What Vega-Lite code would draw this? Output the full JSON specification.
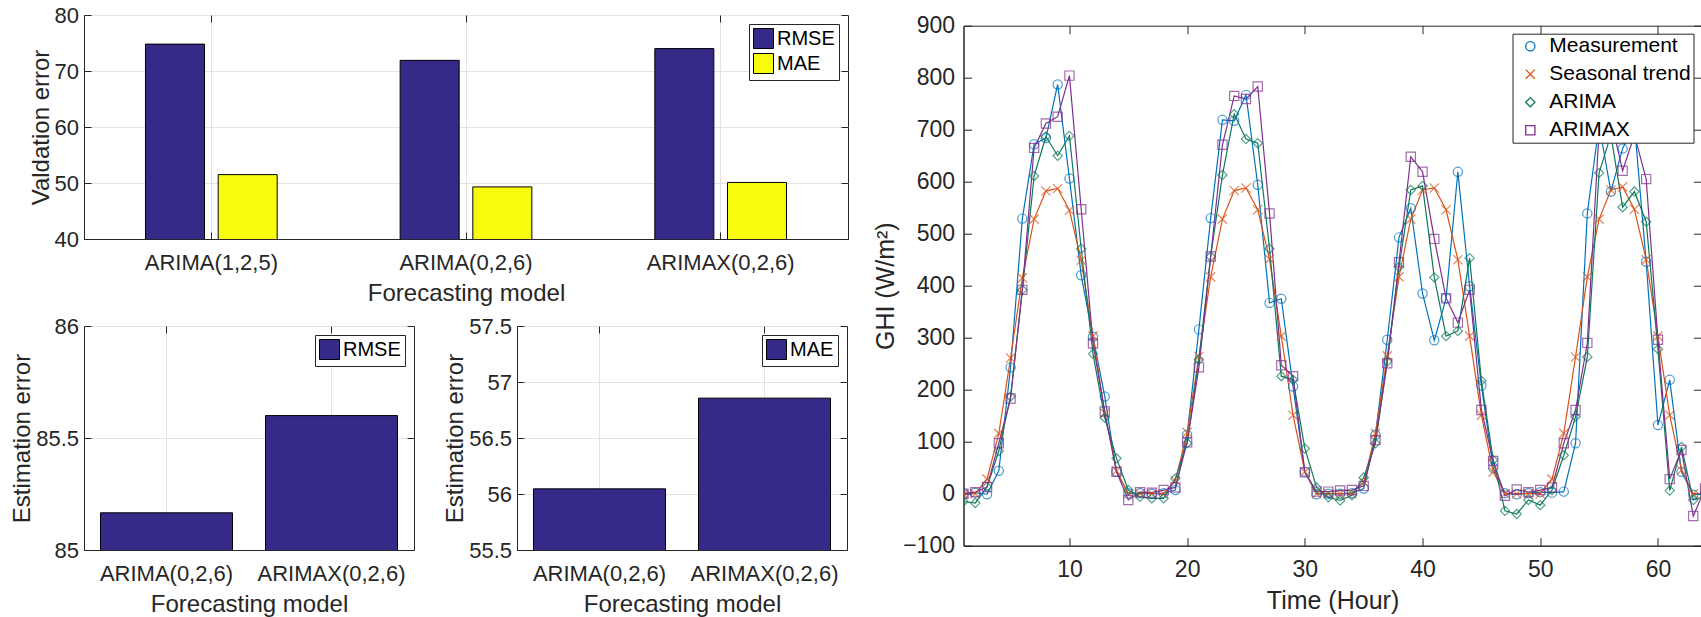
{
  "$schema": "https://vega.github.io/schema/vega-lite/v6.json",
  "padding": {"left": 10, "top": 3, "right": 0, "bottom": 0},
  "background": "white",
  "config": {
    "font": "Liberation Sans",
    "view": {"stroke": "#262626", "strokeWidth": 1},
    "axis": {"domainColor": "#262626", "tickColor": "#262626", "labelColor": "#262626", "titleColor": "#262626", "titleFontWeight": "normal", "gridColor": "#e3e3e3", "gridWidth": 1, "labelFont": "Liberation Sans", "titleFont": "Liberation Sans"},
    "legend": {"labelFont": "Liberation Sans", "labelColor": "#000000", "strokeColor": "#262626", "fillColor": "#ffffff"}
  },
  "datasets": {
    "validation": [
      {"model": "ARIMA(1,2,5)", "metric": "RMSE", "value": 74.8},
      {"model": "ARIMA(1,2,5)", "metric": "MAE", "value": 51.5},
      {"model": "ARIMA(0,2,6)", "metric": "RMSE", "value": 71.9},
      {"model": "ARIMA(0,2,6)", "metric": "MAE", "value": 49.3},
      {"model": "ARIMAX(0,2,6)", "metric": "RMSE", "value": 74.0},
      {"model": "ARIMAX(0,2,6)", "metric": "MAE", "value": 50.1}
    ],
    "estRMSE": [
      {"model": "ARIMA(0,2,6)", "metric": "RMSE", "value": 85.166},
      {"model": "ARIMAX(0,2,6)", "metric": "RMSE", "value": 85.6}
    ],
    "estMAE": [
      {"model": "ARIMA(0,2,6)", "metric": "MAE", "value": 56.046},
      {"model": "ARIMAX(0,2,6)", "metric": "MAE", "value": 56.856}
    ],
    "ghi": [
      {"t": 1, "Measurement": 0, "Seasonal trend": 0, "ARIMA": -15, "ARIMAX": 0},
      {"t": 2, "Measurement": 2, "Seasonal trend": 0, "ARIMA": -18, "ARIMAX": 3},
      {"t": 3, "Measurement": -1, "Seasonal trend": 28, "ARIMA": 13, "ARIMAX": 13},
      {"t": 4, "Measurement": 44, "Seasonal trend": 116, "ARIMA": 82, "ARIMAX": 97},
      {"t": 5, "Measurement": 243, "Seasonal trend": 261, "ARIMA": 187, "ARIMAX": 183},
      {"t": 6, "Measurement": 529, "Seasonal trend": 415, "ARIMA": 392, "ARIMAX": 392},
      {"t": 7, "Measurement": 672, "Seasonal trend": 528, "ARIMA": 611, "ARIMAX": 665},
      {"t": 8, "Measurement": 684, "Seasonal trend": 582, "ARIMA": 687, "ARIMAX": 712},
      {"t": 9, "Measurement": 787, "Seasonal trend": 587, "ARIMA": 650, "ARIMAX": 725},
      {"t": 10, "Measurement": 606, "Seasonal trend": 545, "ARIMA": 688, "ARIMAX": 804},
      {"t": 11, "Measurement": 420, "Seasonal trend": 449, "ARIMA": 471, "ARIMAX": 547},
      {"t": 12, "Measurement": 302, "Seasonal trend": 303, "ARIMA": 269, "ARIMAX": 289},
      {"t": 13, "Measurement": 187, "Seasonal trend": 155, "ARIMA": 146, "ARIMAX": 158},
      {"t": 14, "Measurement": 42, "Seasonal trend": 44, "ARIMA": 68, "ARIMAX": 42},
      {"t": 15, "Measurement": 1, "Seasonal trend": 0, "ARIMA": 7, "ARIMAX": -12},
      {"t": 16, "Measurement": 1, "Seasonal trend": 0, "ARIMA": -6, "ARIMAX": 3},
      {"t": 17, "Measurement": 0, "Seasonal trend": 0, "ARIMA": -9, "ARIMAX": 2},
      {"t": 18, "Measurement": 1, "Seasonal trend": 0, "ARIMA": -9, "ARIMAX": 7},
      {"t": 19, "Measurement": 7, "Seasonal trend": 25, "ARIMA": 29, "ARIMAX": 12},
      {"t": 20, "Measurement": 113, "Seasonal trend": 118, "ARIMA": 97, "ARIMAX": 99},
      {"t": 21, "Measurement": 316, "Seasonal trend": 264, "ARIMA": 258, "ARIMAX": 243},
      {"t": 22, "Measurement": 530, "Seasonal trend": 417, "ARIMA": 456, "ARIMAX": 456},
      {"t": 23, "Measurement": 719, "Seasonal trend": 528, "ARIMA": 613, "ARIMAX": 671},
      {"t": 24, "Measurement": 717, "Seasonal trend": 583, "ARIMA": 730, "ARIMAX": 765},
      {"t": 25, "Measurement": 767, "Seasonal trend": 588, "ARIMA": 682, "ARIMAX": 759},
      {"t": 26, "Measurement": 594, "Seasonal trend": 546, "ARIMA": 674, "ARIMAX": 783},
      {"t": 27, "Measurement": 367, "Seasonal trend": 451, "ARIMA": 471, "ARIMAX": 539},
      {"t": 28, "Measurement": 375, "Seasonal trend": 303, "ARIMA": 226, "ARIMAX": 247},
      {"t": 29, "Measurement": 206, "Seasonal trend": 151, "ARIMA": 219, "ARIMAX": 226},
      {"t": 30, "Measurement": 42, "Seasonal trend": 42, "ARIMA": 87, "ARIMAX": 41},
      {"t": 31, "Measurement": -1, "Seasonal trend": 0, "ARIMA": 12, "ARIMAX": 4},
      {"t": 32, "Measurement": 0, "Seasonal trend": 0, "ARIMA": -7, "ARIMAX": 4},
      {"t": 33, "Measurement": 0, "Seasonal trend": 0, "ARIMA": -13, "ARIMAX": 6},
      {"t": 34, "Measurement": 1, "Seasonal trend": 0, "ARIMA": -3, "ARIMAX": 7},
      {"t": 35, "Measurement": 10, "Seasonal trend": 22, "ARIMA": 31, "ARIMAX": 15},
      {"t": 36, "Measurement": 113, "Seasonal trend": 116, "ARIMA": 97, "ARIMAX": 103},
      {"t": 37, "Measurement": 296, "Seasonal trend": 265, "ARIMA": 254, "ARIMAX": 251},
      {"t": 38, "Measurement": 493, "Seasonal trend": 417, "ARIMA": 436, "ARIMAX": 445},
      {"t": 39, "Measurement": 549, "Seasonal trend": 528, "ARIMA": 584, "ARIMAX": 648},
      {"t": 40, "Measurement": 385, "Seasonal trend": 584, "ARIMA": 592, "ARIMAX": 619},
      {"t": 41, "Measurement": 295, "Seasonal trend": 588, "ARIMA": 416, "ARIMAX": 490},
      {"t": 42, "Measurement": 376, "Seasonal trend": 546, "ARIMA": 303, "ARIMAX": 376},
      {"t": 43, "Measurement": 619, "Seasonal trend": 450, "ARIMA": 313, "ARIMAX": 329},
      {"t": 44, "Measurement": 399, "Seasonal trend": 303, "ARIMA": 453, "ARIMAX": 392},
      {"t": 45, "Measurement": 208, "Seasonal trend": 151, "ARIMA": 217, "ARIMAX": 161},
      {"t": 46, "Measurement": 50, "Seasonal trend": 42, "ARIMA": 65, "ARIMAX": 63},
      {"t": 47, "Measurement": 1, "Seasonal trend": 0, "ARIMA": -33, "ARIMAX": -4},
      {"t": 48, "Measurement": -1, "Seasonal trend": 0, "ARIMA": -39, "ARIMAX": 8},
      {"t": 49, "Measurement": 1, "Seasonal trend": 0, "ARIMA": -12, "ARIMAX": 3},
      {"t": 50, "Measurement": 3, "Seasonal trend": 0, "ARIMA": -22, "ARIMAX": 7},
      {"t": 51, "Measurement": 2, "Seasonal trend": 28, "ARIMA": 7, "ARIMAX": 12},
      {"t": 52, "Measurement": 4, "Seasonal trend": 116, "ARIMA": 74, "ARIMAX": 97},
      {"t": 53, "Measurement": 97, "Seasonal trend": 263, "ARIMA": 148, "ARIMAX": 161},
      {"t": 54, "Measurement": 539, "Seasonal trend": 417, "ARIMA": 263, "ARIMAX": 290},
      {"t": 55, "Measurement": 710, "Seasonal trend": 528, "ARIMA": 617, "ARIMAX": 700},
      {"t": 56, "Measurement": 581, "Seasonal trend": 584, "ARIMA": 690, "ARIMAX": 720},
      {"t": 57, "Measurement": 664, "Seasonal trend": 590, "ARIMA": 551, "ARIMAX": 621},
      {"t": 58, "Measurement": 710, "Seasonal trend": 547, "ARIMA": 581, "ARIMAX": 690},
      {"t": 59, "Measurement": 446, "Seasonal trend": 450, "ARIMA": 523, "ARIMAX": 605},
      {"t": 60, "Measurement": 132, "Seasonal trend": 303, "ARIMA": 278, "ARIMAX": 296},
      {"t": 61, "Measurement": 219, "Seasonal trend": 151, "ARIMA": 6, "ARIMAX": 28},
      {"t": 62, "Measurement": 42, "Seasonal trend": 45, "ARIMA": 90, "ARIMAX": 84},
      {"t": 63, "Measurement": -2, "Seasonal trend": 0, "ARIMA": -12, "ARIMAX": -43},
      {"t": 64, "Measurement": 0, "Seasonal trend": 0, "ARIMA": -5, "ARIMAX": 10}
    ]
  },
  "resolve": {"scale": {"color": "independent", "shape": "independent"}, "legend": {"color": "independent", "shape": "independent"}},
  "spacing": 23.5,
  "hconcat": [
    {
      "bounds": "flush",
      "spacing": 87,
      "resolve": {"scale": {"color": "independent"}, "legend": {"color": "independent"}},
      "vconcat": [
        {
          "width": 764,
          "height": 224,
          "data": {"name": "validation"},
          "resolve": {"axis": {"x": "independent", "y": "independent"}},
          "encoding": {
            "x": {"field": "model", "type": "nominal", "sort": ["ARIMA(1,2,5)", "ARIMA(0,2,6)", "ARIMAX(0,2,6)"], "scale": {"type": "band", "paddingInner": 0, "paddingOuter": 0},
              "axis": {"title": "Forecasting model", "labelAngle": 0, "grid": true, "bandPosition": 0.5, "tickSize": -7, "labelPadding": 20, "labelFontSize": 22, "titleFontSize": 24, "titlePadding": 8}},
            "xOffset": {"field": "metric", "type": "nominal", "sort": ["RMSE", "MAE"], "scale": {"paddingInner": 0.188, "paddingOuter": 0.846}},
            "y": {"field": "value", "type": "quantitative", "scale": {"domain": [40, 80], "nice": false, "zero": false},
              "axis": {"title": "Valdation error", "values": [40, 50, 60, 70, 80], "grid": true, "tickSize": -7, "labelPadding": 12.5, "labelFontSize": 22, "titleFontSize": 24, "titlePadding": 1}}
          },
          "layer": [
            {
              "mark": {"type": "bar", "stroke": "#000000", "strokeWidth": 1, "clip": true},
              "encoding": {
                "color": {"field": "metric", "type": "nominal", "sort": ["RMSE", "MAE"], "scale": {"domain": ["RMSE", "MAE"], "range": ["#352A87", "#F9FB0E"]},
                  "legend": {"title": null, "orient": "top-right", "offset": 9, "symbolType": "square", "symbolSize": 400, "symbolStrokeColor": "#000000", "symbolStrokeWidth": 1, "labelFontSize": 20, "labelOffset": 3, "rowPadding": 0, "padding": 4}}
              }
            },
            {
              "mark": {"type": "bar", "opacity": 0, "clip": true},
              "encoding": {
                "x": {"field": "model", "type": "nominal", "sort": ["ARIMA(1,2,5)", "ARIMA(0,2,6)", "ARIMAX(0,2,6)"], "scale": {"type": "band", "paddingInner": 0, "paddingOuter": 0},
                  "axis": {"orient": "top", "labels": false, "title": null, "domain": false, "grid": false, "bandPosition": 0.5, "tickSize": -7}},
                "y": {"field": "value", "type": "quantitative", "scale": {"domain": [40, 80], "nice": false, "zero": false},
                  "axis": {"orient": "right", "labels": false, "title": null, "domain": false, "grid": false, "values": [40, 50, 60, 70, 80], "tickSize": -7}}
              }
            }
          ]
        },
        {
          "bounds": "flush",
          "spacing": 103,
          "resolve": {"scale": {"color": "independent"}, "legend": {"color": "independent"}},
          "hconcat": [
            {
              "width": 330,
              "height": 224,
              "data": {"name": "estRMSE"},
              "resolve": {"axis": {"x": "independent", "y": "independent"}},
              "encoding": {
                "x": {"field": "model", "type": "nominal", "sort": ["ARIMA(0,2,6)", "ARIMAX(0,2,6)"], "scale": {"type": "band", "paddingInner": 0.2, "paddingOuter": 0.1},
                  "axis": {"title": "Forecasting model", "labelAngle": 0, "grid": true, "bandPosition": 0.5, "tickSize": -7, "labelPadding": 20, "labelFontSize": 22, "titleFontSize": 24, "titlePadding": 8}},
                "y": {"field": "value", "type": "quantitative", "scale": {"domain": [85, 86], "nice": false, "zero": false},
                  "axis": {"title": "Estimation error", "values": [85, 85.5, 86], "format": "~g", "grid": true, "tickSize": -7, "labelPadding": 12.5, "labelFontSize": 22, "titleFontSize": 24, "titlePadding": 1}}
              },
              "layer": [
                {
                  "mark": {"type": "bar", "stroke": "#000000", "strokeWidth": 1, "clip": true},
                  "encoding": {
                    "color": {"field": "metric", "type": "nominal", "scale": {"domain": ["RMSE"], "range": ["#352A87"]},
                      "legend": {"title": null, "orient": "top-right", "offset": 9, "symbolType": "square", "symbolSize": 400, "symbolStrokeColor": "#000000", "symbolStrokeWidth": 1, "labelFontSize": 20, "labelOffset": 3, "rowPadding": 0, "padding": 4}}
                  }
                },
                {
                  "mark": {"type": "bar", "opacity": 0, "clip": true},
                  "encoding": {
                    "x": {"field": "model", "type": "nominal", "sort": ["ARIMA(0,2,6)", "ARIMAX(0,2,6)"], "scale": {"type": "band", "paddingInner": 0.2, "paddingOuter": 0.1},
                      "axis": {"orient": "top", "labels": false, "title": null, "domain": false, "grid": false, "bandPosition": 0.5, "tickSize": -7}},
                    "y": {"field": "value", "type": "quantitative", "scale": {"domain": [85, 86], "nice": false, "zero": false},
                      "axis": {"orient": "right", "labels": false, "title": null, "domain": false, "grid": false, "values": [85, 85.5, 86], "tickSize": -7}}
                  }
                }
              ]
            },
            {
              "width": 330,
              "height": 224,
              "data": {"name": "estMAE"},
              "resolve": {"axis": {"x": "independent", "y": "independent"}},
              "encoding": {
                "x": {"field": "model", "type": "nominal", "sort": ["ARIMA(0,2,6)", "ARIMAX(0,2,6)"], "scale": {"type": "band", "paddingInner": 0.2, "paddingOuter": 0.1},
                  "axis": {"title": "Forecasting model", "labelAngle": 0, "grid": true, "bandPosition": 0.5, "tickSize": -7, "labelPadding": 20, "labelFontSize": 22, "titleFontSize": 24, "titlePadding": 8}},
                "y": {"field": "value", "type": "quantitative", "scale": {"domain": [55.5, 57.5], "nice": false, "zero": false},
                  "axis": {"title": "Estimation error", "values": [55.5, 56, 56.5, 57, 57.5], "format": "~g", "grid": true, "tickSize": -7, "labelPadding": 12.5, "labelFontSize": 22, "titleFontSize": 24, "titlePadding": 1}}
              },
              "layer": [
                {
                  "mark": {"type": "bar", "stroke": "#000000", "strokeWidth": 1, "clip": true},
                  "encoding": {
                    "color": {"field": "metric", "type": "nominal", "scale": {"domain": ["MAE"], "range": ["#352A87"]},
                      "legend": {"title": null, "orient": "top-right", "offset": 9, "symbolType": "square", "symbolSize": 400, "symbolStrokeColor": "#000000", "symbolStrokeWidth": 1, "labelFontSize": 20, "labelOffset": 3, "rowPadding": 0, "padding": 4}}
                  }
                },
                {
                  "mark": {"type": "bar", "opacity": 0, "clip": true},
                  "encoding": {
                    "x": {"field": "model", "type": "nominal", "sort": ["ARIMA(0,2,6)", "ARIMAX(0,2,6)"], "scale": {"type": "band", "paddingInner": 0.2, "paddingOuter": 0.1},
                      "axis": {"orient": "top", "labels": false, "title": null, "domain": false, "grid": false, "bandPosition": 0.5, "tickSize": -7}},
                    "y": {"field": "value", "type": "quantitative", "scale": {"domain": [55.5, 57.5], "nice": false, "zero": false},
                      "axis": {"orient": "right", "labels": false, "title": null, "domain": false, "grid": false, "values": [55.5, 56, 56.5, 57, 57.5], "tickSize": -7}}
                  }
                }
              ]
            }
          ]
        }
      ]
    },
    {
      "bounds": "flush",
      "spacing": 9.7,
      "resolve": {"scale": {"color": "independent", "shape": "independent"}, "legend": {"color": "independent", "shape": "independent"}},
      "vconcat": [
        {
          "width": 738,
          "height": 1,
          "data": {"values": [{"blank": ""}]},
          "mark": {"type": "text", "text": ""},
          "encoding": {},
          "view": {"stroke": null}
        },
        {
          "width": 738,
          "height": 520,
          "data": {"name": "ghi"},
          "transform": [{"fold": ["Measurement", "Seasonal trend", "ARIMA", "ARIMAX"], "as": ["series", "ghi"]}],
          "resolve": {"axis": {"x": "independent", "y": "independent"}},
          "encoding": {
            "x": {"field": "t", "type": "quantitative", "scale": {"domain": [1, 63.7], "nice": false, "zero": false},
              "axis": {"title": "Time (Hour)", "values": [10, 20, 30, 40, 50, 60], "grid": false, "tickSize": -8, "labelPadding": 21, "labelFontSize": 23, "titleFontSize": 25, "titlePadding": 7}},
            "y": {"field": "ghi", "type": "quantitative", "scale": {"domain": [-100, 900], "nice": false, "zero": false},
              "axis": {"title": "GHI (W/m²)", "values": [-100, 0, 100, 200, 300, 400, 500, 600, 700, 800, 900], "grid": false, "tickSize": -8, "labelPadding": 17, "labelFontSize": 23, "titleFontSize": 25, "titlePadding": 4}},
            "color": {"field": "series", "type": "nominal", "sort": ["Measurement", "Seasonal trend", "ARIMA", "ARIMAX"],
              "scale": {"domain": ["Measurement", "Seasonal trend", "ARIMA", "ARIMAX"], "range": ["#0072BD", "#D95319", "#0E7A5A", "#7E2F8E"]},
              "legend": {"title": null, "orient": "top-right", "offset": 8, "symbolSize": 85, "symbolStrokeWidth": 1.3, "symbolOffset": 5.3, "labelFontSize": 21, "labelOffset": 8.5, "rowPadding": 6, "padding": 2,
                "encoding": {"symbols": {"shape": {"value": {"expr": "datum.value === 'Measurement' ? 'M-2,0L2,0M-1,0A1,1 0 1,1 1,0A1,1 0 1,1 -1,0' : datum.value === 'Seasonal trend' ? 'M-2,0L2,0M-1,-1L1,1M-1,1L1,-1' : datum.value === 'ARIMA' ? 'M-2,0L2,0M-1,0L0,-1.2L1,0L0,1.2Z' : 'M-2,0L2,0M-0.9,-0.9L0.9,-0.9L0.9,0.9L-0.9,0.9Z'"}}}}}}
          },
          "layer": [
            {"mark": {"type": "line", "strokeWidth": 1.2, "clip": true}},
            {"mark": {"type": "point", "filled": false, "size": 85, "strokeWidth": 1.2, "clip": true},
              "encoding": {
                "x": {"field": "t", "type": "quantitative", "scale": {"domain": [1, 63.7], "nice": false, "zero": false},
                  "axis": {"orient": "top", "labels": false, "title": null, "domain": false, "grid": false, "values": [10, 20, 30, 40, 50, 60], "tickSize": -8}},
                "y": {"field": "ghi", "type": "quantitative", "scale": {"domain": [-100, 900], "nice": false, "zero": false},
                  "axis": {"orient": "right", "labels": false, "title": null, "domain": false, "grid": false, "values": [-100, 0, 100, 200, 300, 400, 500, 600, 700, 800, 900], "tickSize": -8}},
                "shape": {"field": "series", "type": "nominal", "sort": ["Measurement", "Seasonal trend", "ARIMA", "ARIMAX"],
                "scale": {"domain": ["Measurement", "Seasonal trend", "ARIMA", "ARIMAX"], "range": ["circle", "M-1,-1L1,1M-1,1L1,-1", "diamond", "square"]},
                "legend": {"title": null, "orient": "top-right", "offset": 8, "symbolSize": 85, "symbolStrokeWidth": 1.3, "symbolOffset": 5.3, "labelFontSize": 21, "labelOffset": 8.5, "rowPadding": 6, "padding": 2,
                  "encoding": {"symbols": {"shape": {"value": {"expr": "datum.value === 'Measurement' ? 'M-2,0L2,0M-1,0A1,1 0 1,1 1,0A1,1 0 1,1 -1,0' : datum.value === 'Seasonal trend' ? 'M-2,0L2,0M-1,-1L1,1M-1,1L1,-1' : datum.value === 'ARIMA' ? 'M-2,0L2,0M-1,0L0,-1.2L1,0L0,1.2Z' : 'M-2,0L2,0M-0.9,-0.9L0.9,-0.9L0.9,0.9L-0.9,0.9Z'"}}}}}}}}
          ]
        }
      ]
    }
  ]
}
